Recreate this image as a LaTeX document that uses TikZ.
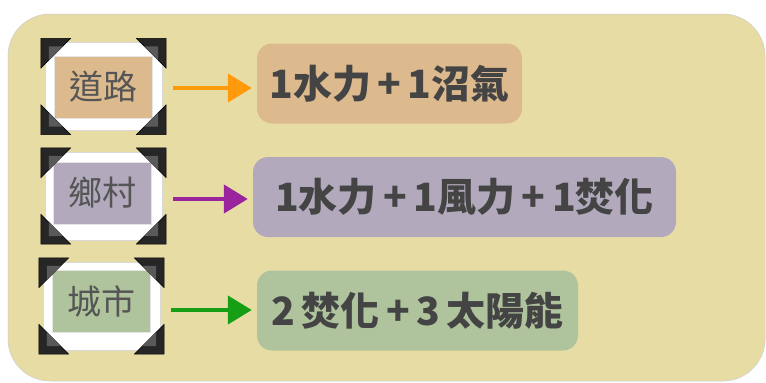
\documentclass[tikz,border=0pt]{standalone}
\usepackage{fontspec}
\newfontfamily\cjk{Noto Sans CJK TC}
\usetikzlibrary{arrows.meta}
\definecolor{bgk}{HTML}{E8DCA5}
\definecolor{tanc}{HTML}{DDBA8E}
\definecolor{lavc}{HTML}{B3A9BD}
\definecolor{sagec}{HTML}{AFC49D}
\definecolor{txt}{HTML}{444444}
\definecolor{lbl}{HTML}{555555}
\definecolor{arrO}{HTML}{FF9A0A}
\definecolor{arrP}{HTML}{9A249E}
\definecolor{arrG}{HTML}{169E14}
\tikzset{
  frame/.style={rectangle, fill=white, draw=black!15, line width=0.4pt, minimum width=117pt, minimum height=88pt, inner sep=0pt},
  photo/.style={rectangle, fill=#1, draw=black!10, line width=0.3pt, minimum width=98pt, minimum height=62pt, inner sep=0pt,
    font=\cjk\fontsize{34pt}{36pt}\selectfont, text=lbl},
  result/.style={rectangle, rounded corners=15pt, fill=#1, minimum height=80pt, inner sep=0pt,
    font=\cjk\bfseries\fontsize{39pt}{42pt}\selectfont, text=txt},
  arr/.style={draw=#1, line width=4.5pt, -{Triangle[length=24pt,width=28pt]}, shorten <=11pt, shorten >=5pt},
  pcorner/.style={fill=black!85, draw=black, line width=0.5pt, line join=round},
  pcornerin/.style={fill=black!65}
}
\begin{document}
\begin{tikzpicture}[x=1pt,y=-1pt]
\useasboundingbox (0,0) rectangle (766,383);
\fill[white] (0,0) rectangle (766,383);
\draw[fill=bgk, draw=black!20, line width=0.5pt, rounded corners=42pt] (8,14) rectangle (765,381);

% frames
\node[frame] (f1) at (103.5,86.5) {};
\node[frame] (f2) at (103.5,196) {};
\node[frame] (f3) at (101.5,306) {};
\node[photo=tanc] (p1) at (103,87) {道路};
\node[photo=lavc] (p2) at (102.5,193) {鄉村};
\node[photo=sagec] (p3) at (101.5,301.5) {城市};

\foreach \f in {f1,f2,f3}{
  \filldraw[pcorner] ([shift={(-4pt,4pt)}]\f.north west) -- ++(30pt,0pt) -- ++(-30pt,-30pt) -- cycle;
  \fill[pcornerin] ([shift={(4pt,-4pt)}]\f.north west) -- ++(14pt,0pt) -- ++(-14pt,-14pt) -- cycle;
  \filldraw[pcorner] ([shift={(4pt,4pt)}]\f.north east) -- ++(-30pt,0pt) -- ++(30pt,-30pt) -- cycle;
  \fill[pcornerin] ([shift={(-4pt,-4pt)}]\f.north east) -- ++(-14pt,0pt) -- ++(14pt,-14pt) -- cycle;
  \filldraw[pcorner] ([shift={(-4pt,-4pt)}]\f.south west) -- ++(30pt,0pt) -- ++(-30pt,30pt) -- cycle;
  \fill[pcornerin] ([shift={(4pt,4pt)}]\f.south west) -- ++(14pt,0pt) -- ++(-14pt,14pt) -- cycle;
  \filldraw[pcorner] ([shift={(4pt,-4pt)}]\f.south east) -- ++(-30pt,0pt) -- ++(30pt,30pt) -- cycle;
  \fill[pcornerin] ([shift={(-4pt,4pt)}]\f.south east) -- ++(-14pt,0pt) -- ++(14pt,14pt) -- cycle;
}

% results
\node[result=tanc, minimum width=265pt] (b1) at (389.5,83.5) {1水力\,+\,1沼氣};
\node[result=lavc, minimum width=423pt] (b2) at (464.5,197) {1水力\,+\,1風力\,+\,1焚化};
\node[result=sagec, minimum width=321pt] (b3) at (417.5,310.5) {2\,焚化\,+\,3\,太陽能};

% arrows
\draw[arr=arrO] ([yshift=-1.5pt]f1.east) -- ([yshift=-1.5pt]f1.east -| b1.west);
\draw[arr=arrP] ([yshift=-3pt]f2.east) -- ([yshift=-3pt]f2.east -| b2.west);
\draw[arr=arrG] ([yshift=-4pt]f3.east) -- ([yshift=-4pt]f3.east -| b3.west);
\end{tikzpicture}
\end{document}
